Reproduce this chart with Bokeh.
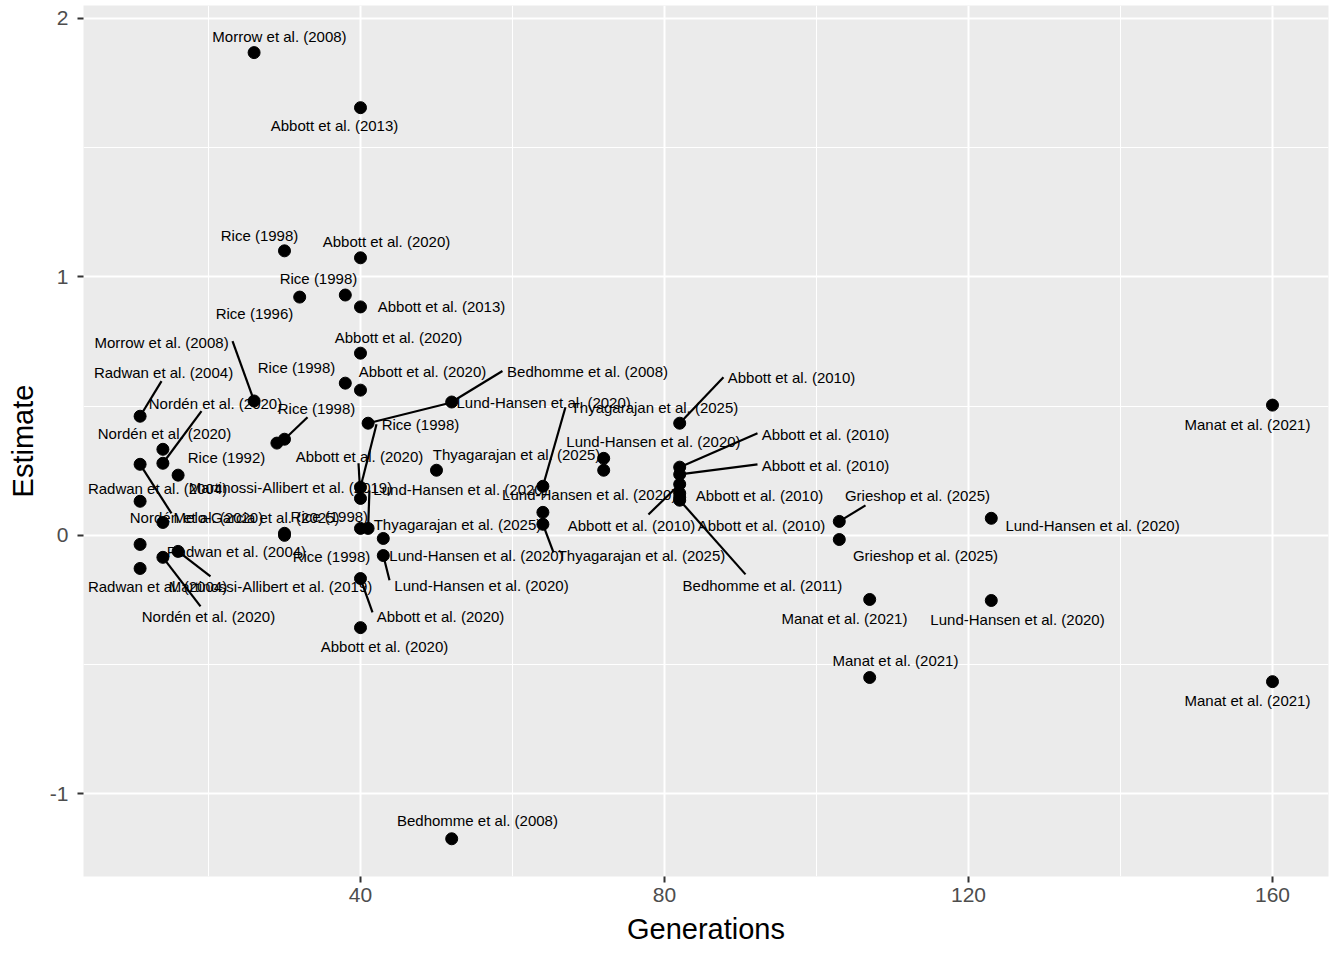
import math
from bokeh.plotting import figure
from bokeh.models import ColumnDataSource, FixedTicker, Range1d
from bokeh.core.properties import value
from bokeh.embed import file_html
from bokeh.resources import INLINE

# ---- data ----
generations = [26, 40, 30, 40, 38, 32, 40, 40, 38, 40,
               26, 11, 52, 41, 82, 14, 64, 30, 40, 160,
               14, 82, 72, 40, 16, 50, 82, 29, 11, 41,
               64, 82, 103, 11, 14, 30, 40, 82, 82, 123,
               11, 30, 43, 64, 103, 11, 16, 43, 82, 14,
               40, 107, 123, 40, 107, 160, 52, 72]
estimate = [1.868, 1.655, 1.101, 1.074, 0.930, 0.922, 0.884, 0.705, 0.589, 0.562,
            0.520, 0.461, 0.516, 0.434, 0.434, 0.279, 0.190, 0.372, 0.186, 0.504,
            0.333, 0.264, 0.298, 0.143, 0.233, 0.252, 0.236, 0.357, 0.132, 0.027,
            0.089, 0.163, 0.054, 0.275, 0.050, 0.008, 0.027, 0.198, 0.147, 0.066,
            -0.035, 0.000, -0.012, 0.043, -0.016, -0.128, -0.062, -0.078, 0.136, -0.085,
            -0.167, -0.248, -0.252, -0.357, -0.550, -0.566, -1.174, 0.252]
study = ["Morrow et al. (2008)", "Abbott et al. (2013)", "Rice (1998)", "Abbott et al. (2020)",
         "Rice (1998)", "Rice (1996)", "Abbott et al. (2013)", "Abbott et al. (2020)",
         "Rice (1998)", "Abbott et al. (2020)",
         "Morrow et al. (2008)", "Radwan et al. (2004)", "Bedhomme et al. (2008)",
         "Lund-Hansen et al. (2020)", "Abbott et al. (2010)", "Nordén et al. (2020)",
         "Thyagarajan et al. (2025)", "Rice (1998)", "Rice (1998)", "Manat et al. (2021)",
         "Nordén et al. (2020)", "Abbott et al. (2010)", "Lund-Hansen et al. (2020)",
         "Abbott et al. (2020)", "Rice (1992)", "Thyagarajan et al. (2025)",
         "Abbott et al. (2010)", "Martinossi-Allibert et al. (2019)", "Radwan et al. (2004)",
         "Lund-Hansen et al. (2020)",
         "Lund-Hansen et al. (2020)", "Abbott et al. (2010)", "Grieshop et al. (2025)",
         "Nordén et al. (2020)", "Melo-Garcia et al. (2025)", "Rice (1998)",
         "Thyagarajan et al. (2025)", "Abbott et al. (2010)", "Abbott et al. (2010)",
         "Lund-Hansen et al. (2020)",
         "Radwan et al. (2004)", "Rice (1998)", "Lund-Hansen et al. (2020)",
         "Thyagarajan et al. (2025)", "Grieshop et al. (2025)", "Radwan et al. (2004)",
         "Martinossi-Allibert et al. (2019)", "Lund-Hansen et al. (2020)",
         "Bedhomme et al. (2011)", "Nordén et al. (2020)",
         "Abbott et al. (2020)", "Manat et al. (2021)", "Lund-Hansen et al. (2020)",
         "Abbott et al. (2020)", "Manat et al. (2021)", "Manat et al. (2021)",
         "Bedhomme et al. (2008)", "Lund-Hansen et al. (2020)"]

# repelled label anchors (data units), None = label not shown
label_gen = [29.34, 36.58, 26.71, 43.42, 34.47, 26.05, 50.66, 45.0, 31.58, 48.16,
             13.82, 14.08, 69.87, 64.1, 96.71, 20.92, 78.68, 34.21, 47.89, 156.71,
             14.21, 101.18, 78.55, 39.87, 22.37, 60.53, 101.18, 30.79, 13.29, 53.16,
             70.1, 92.5, 113.29, 18.42, 26.32, 35.9, 52.76, 75.66, 92.76, 136.32,
             23.68, 36.18, 55.26, 76.97, 114.34, 13.29, 28.16, 55.92, 92.89, 20.0,
             50.53, 103.68, 126.45, 43.16, 110.39, 156.71, 55.39, None]
label_est = [1.930, 1.585, 1.160, 1.137, 0.993, 0.857, 0.884, 0.765, 0.648, 0.634,
             0.746, 0.630, 0.634, 0.516, 0.610, 0.510, 0.494, 0.490, 0.430, 0.430,
             0.393, 0.391, 0.364, 0.306, 0.302, 0.312, 0.271, 0.186, 0.182, 0.178,
             0.159, 0.155, 0.155, 0.070, 0.070, 0.074, 0.043, 0.039, 0.039, 0.039,
             -0.062, -0.081, -0.078, -0.078, -0.078, -0.198, -0.198, -0.194, -0.194, -0.314,
             -0.314, -0.322, -0.326, -0.430, -0.484, -0.640, -1.105, None]

# leader-segment ends (data units), None = no segment drawn
seg_gen = [None, None, None, None, None, None, None, None, None, None,
           23.16, 13.82, 58.68, 52.24, 87.76, 19.08, 66.97, 33.03, 42.11, None,
           None, 92.24, None, 39.74, None, None, 92.24, None, None, 41.18,
           None, None, 106.45, 15.13, None, None, None, 77.89, None, None,
           None, None, None, 65.39, None, None, 20.26, 43.82, 90.66, 18.95,
           41.58, None, None, None, None, None, None, None]
seg_est = [None, None, None, None, None, None, None, None, None, None,
           0.752, 0.597, 0.636, 0.516, 0.612, 0.481, 0.496, 0.457, 0.430, None,
           None, 0.395, None, 0.279, None, None, 0.275, None, None, 0.174,
           None, None, 0.116, 0.085, None, None, None, 0.081, None, None,
           None, None, None, -0.066, None, None, -0.159, -0.174, -0.151, -0.275,
           -0.298, None, None, None, None, None, None, None]

x_ticks = [40, 80, 120, 160]
x_minor = [20, 60, 100, 140]
y_ticks = [-1, 0, 1, 2]
y_minor = [-0.5, 0.5, 1.5]
y_tick_labels = {-1: "-1", 0: "0", 1: "1", 2: "2"}

FONT = "Liberation Sans"

p = figure(width=1336, height=952, output_backend="svg", toolbar_location=None,
           x_range=Range1d(3.553, 167.37), y_range=Range1d(-1.320, 2.0503),
           min_border_left=83, min_border_right=8, min_border_top=5, min_border_bottom=76)
p.background_fill_color = "#EBEBEB"
p.border_fill_color = "white"
p.outline_line_color = None

p.xaxis.ticker = FixedTicker(ticks=x_ticks, minor_ticks=x_minor)
p.yaxis.ticker = FixedTicker(ticks=y_ticks, minor_ticks=y_minor)
p.yaxis.major_label_overrides = y_tick_labels

for g in (p.xgrid, p.ygrid):
    g.grid_line_color = "white"
    g.grid_line_width = 2
    g.minor_grid_line_color = "white"
    g.minor_grid_line_width = 1

for ax in (p.xaxis, p.yaxis):
    ax.axis_line_color = None
    ax.major_tick_line_color = "#333333"
    ax.major_tick_line_width = 2
    ax.major_tick_out = 6
    ax.major_tick_in = 0
    ax.minor_tick_line_color = None
    ax.major_label_text_font = FONT
    ax.major_label_text_font_size = "21px"
    ax.major_label_text_color = "#4D4D4D"
    ax.axis_label_text_font = FONT
    ax.axis_label_text_font_size = "29px"
    ax.axis_label_text_font_style = "normal"
    ax.axis_label_text_color = "black"

p.xaxis.axis_label = "Generations"
p.yaxis.axis_label = "Estimate"
p.xaxis.major_label_standoff = 5
p.xaxis.axis_label_standoff = 8
p.yaxis.major_label_standoff = 9
p.yaxis.axis_label_standoff = 8

pts = ColumnDataSource(dict(g=generations, e=estimate, s=study))
p.scatter("g", "e", source=pts, size=12, color="black")

sx0, sy0, sx1, sy1 = [], [], [], []
for g, e, a, b in zip(generations, estimate, seg_gen, seg_est):
    if a is not None:
        sx0.append(g); sy0.append(e); sx1.append(a); sy1.append(b)
p.segment(x0=sx0, y0=sy0, x1=sx1, y1=sy1, line_color="black", line_width=2.2)

lx, ly, lt = [], [], []
for s, a, b in zip(study, label_gen, label_est):
    if a is not None:
        lx.append(a); ly.append(b); lt.append(s)
labels = ColumnDataSource(dict(x=lx, y=ly, t=lt))
p.text("x", "y", text="t", source=labels, text_font=value(FONT), text_font_size="15px",
       text_align="center", text_baseline="middle", text_color="black")

open("out.html", "w").write(file_html(p, INLINE))
